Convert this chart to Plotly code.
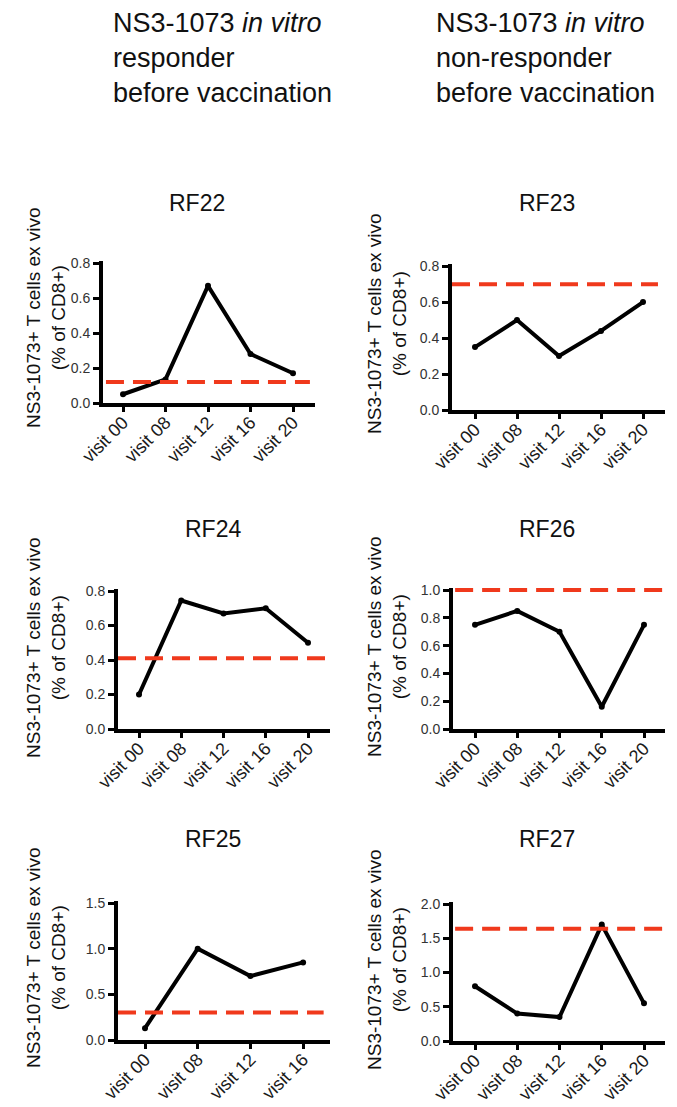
import plotly.graph_objects as go

W, H = 677, 1107

# ---------------- data ----------------
visits5 = ["visit 00", "visit 08", "visit 12", "visit 16", "visit 20"]
visits4 = ["visit 00", "visit 08", "visit 12", "visit 16"]

panel_names = ["RF22", "RF23", "RF24", "RF26", "RF25", "RF27"]

rf22 = [0.05, 0.135, 0.67, 0.28, 0.17]
rf23 = [0.35, 0.50, 0.30, 0.44, 0.60]
rf24 = [0.20, 0.745, 0.67, 0.70, 0.50]
rf26 = [0.75, 0.85, 0.70, 0.16, 0.75]
rf25 = [0.13, 1.00, 0.70, 0.85]
rf27 = [0.80, 0.40, 0.35, 1.70, 0.55]

thresholds = [0.12, 0.70, 0.41, 1.00, 0.30, 1.64]

y_max = [0.8, 0.8, 0.8, 1.0, 1.5, 2.0]
y_step = [0.2, 0.2, 0.2, 0.2, 0.5, 0.5]

header_left = "NS3-1073 <i>in vitro</i><br>responder<br>before vaccination"
header_right = "NS3-1073 <i>in vitro</i><br>non-responder<br>before vaccination"
y_title = "NS3-1073+ T cells ex vivo<br>(% of CD8+)"

series = [rf22, rf23, rf24, rf26, rf25, rf27]
cats = [visits5, visits5, visits5, visits5, visits4, visits5]

# ---------------- layout geometry (pixels) ----------------
# (x_left, x_right, y_top, y_bottom, first_tick_px, tick_spacing_px)
boxes = [
    (103, 315, 261, 403, 123, 42.5),
    (452, 665, 264, 410, 475, 42.0),
    (118, 330, 589, 729, 139, 42.25),
    (453, 665, 588, 729, 475, 42.25),
    (118, 330, 901, 1040, 145, 52.7),
    (453, 665, 902, 1041, 475, 42.25),
]
title_pos = [(197, 203), (547, 203), (213, 529), (547, 529), (213, 839), (547, 839)]
ytitle_pos = [(46, 318), (387, 324), (46, 648), (387, 647), (46, 958), (387, 960)]
red_ext = [(0.014, 0.976), (0.0, 0.967), (0.0, 1.0), (0.01, 1.0), (0.0, 0.97), (0.01, 1.0)]

FONT = "Arial, Liberation Sans, Helvetica, sans-serif"
RED = "#F0391C"

fig = go.Figure()
layout = dict(
    width=W, height=H,
    margin=dict(l=0, r=0, t=0, b=0, pad=0),
    paper_bgcolor="white", plot_bgcolor="white",
    showlegend=False,
    font=dict(family=FONT, color="#111"),
)
annotations = []
shapes = []

for i in range(6):
    xl, xr, yt, yb, t0, dt = boxes[i]
    n = len(cats[i])
    xa = "xaxis" if i == 0 else f"xaxis{i+1}"
    ya = "yaxis" if i == 0 else f"yaxis{i+1}"
    xr_ref = "x" if i == 0 else f"x{i+1}"
    yr_ref = "y" if i == 0 else f"y{i+1}"

    fig.add_trace(go.Scatter(
        x=cats[i], y=series[i], xaxis=xr_ref, yaxis=yr_ref,
        mode="lines+markers",
        line=dict(color="black", width=4),
        marker=dict(color="black", size=6),
        cliponaxis=False,
    ))

    x_range = [(xl - t0) / dt, (n - 1) + (xr - (t0 + (n - 1) * dt)) / dt]
    ytop = y_max[i] * 1.015
    ticks = []
    v = 0.0
    while v <= y_max[i] + 1e-9:
        ticks.append(round(v, 2))
        v += y_step[i]

    layout[xa] = dict(
        domain=[xl / W, xr / W], anchor=yr_ref, automargin=False,
        type="category", categoryorder="array", categoryarray=cats[i],
        range=x_range,
        showline=True, linecolor="black", linewidth=4,
        ticks="outside", ticklen=5, tickwidth=3, tickcolor="black",
        ticklabelstandoff=-7,
        tickangle=-45, tickfont=dict(size=18, color="#1a1a1a", family=FONT),
        showgrid=False, zeroline=False, fixedrange=True,
    )
    layout[ya] = dict(
        domain=[1 - yb / H, 1 - yt / H], anchor=xr_ref, automargin=False,
        range=[0, ytop],
        tickvals=ticks, ticktext=[f"{t:.1f}" for t in ticks],
        showline=True, linecolor="black", linewidth=4,
        ticks="outside", ticklen=6, tickwidth=3, tickcolor="black",
        tickfont=dict(size=14, color="#333", family=FONT),
        showgrid=False, zeroline=False, fixedrange=True,
    )

    x0, x1 = red_ext[i]
    shapes.append(dict(
        type="line", xref=f"{xr_ref} domain", yref=yr_ref,
        x0=x0, x1=x1, y0=thresholds[i], y1=thresholds[i],
        line=dict(color=RED, width=4, dash="18px,9px"),
        layer="above",
    ))

    tx, ty = title_pos[i]
    annotations.append(dict(
        text=panel_names[i], xref="paper", yref="paper",
        x=tx / W, y=1 - ty / H, xanchor="center", yanchor="middle",
        showarrow=False, font=dict(size=23, color="#111", family=FONT),
    ))
    yx, yy = ytitle_pos[i]
    annotations.append(dict(
        text=y_title, xref="paper", yref="paper",
        x=yx / W, y=1 - yy / H, xanchor="center", yanchor="middle",
        textangle=-90, showarrow=False, align="center",
        font=dict(size=19, color="#111", family=FONT),
    ))

annotations.append(dict(
    text=header_left, xref="paper", yref="paper", x=111 / W, y=1 - 6 / H,
    xanchor="left", yanchor="top", align="left", showarrow=False,
    font=dict(size=27, color="#111", family=FONT),
))
annotations.append(dict(
    text=header_right, xref="paper", yref="paper", x=434 / W, y=1 - 6 / H,
    xanchor="left", yanchor="top", align="left", showarrow=False,
    font=dict(size=27, color="#111", family=FONT),
))

layout["annotations"] = annotations
layout["shapes"] = shapes
fig.update_layout(**layout)

fig.write_html("out.html")
